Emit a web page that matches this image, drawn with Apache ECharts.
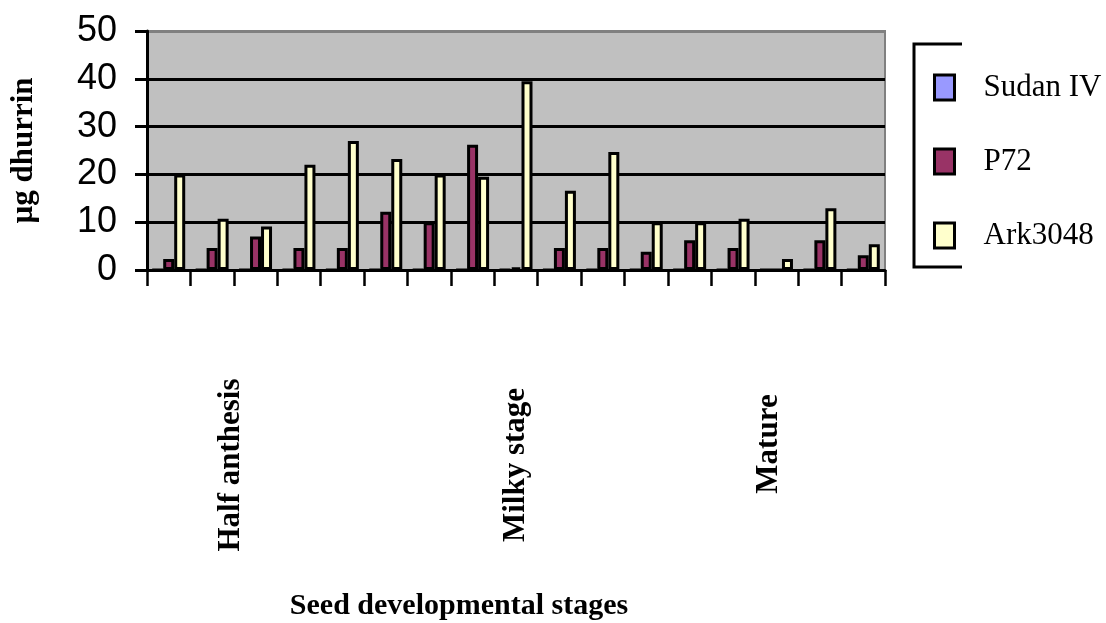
<!DOCTYPE html>
<html>
<head>
<meta charset="utf-8">
<style>
  html, body { margin: 0; padding: 0; background: #ffffff; }
  #chart { width: 1106px; height: 623px; }
</style>
<script src="https://cdn.jsdelivr.net/npm/echarts@6/dist/echarts.min.js"></script>
</head>
<body>
<div id="chart"></div>
<script>
// Samples along the seed developmental series (one bar group each)
const samples = ['1', '2', '3', '4', '5', '6', '7', '8', '9', '10', '11', '12', '13', '14', '15', '16', '17'];

// Dhurrin content (µg) per sample for each line
const sudanIV = [0, 0, 0, 0, 0, 0, 0, 0, 0, 0, 0, 0, 0, 0, 0, 0, 0];
const p72     = [2.3, 4.6, 7, 4.6, 4.6, 12.2, 10, 26.2, 0.5, 4.6, 4.6, 3.8, 6.2, 4.6, 0, 6.2, 3.1];
const ark3048 = [20, 10.7, 9.1, 22, 27, 23.2, 20, 19.5, 39.5, 16.6, 24.7, 10, 10, 10.7, 2.3, 12.9, 5.4];

const seriesNames = ['Sudan IV', 'P72', 'Ark3048'];
const seriesColors = ['#9999FF', '#993366', '#FFFFCC'];

// Stage names written under the axis
const stageLabels = ['Half anthesis', 'Milky stage', 'Mature'];
const yTicks = { min: 0, max: 50, interval: 10 };

const SERIF = '"Liberation Serif", "Times New Roman", serif';
const SANS = '"Liberation Sans", Arial, sans-serif';

const chart = echarts.init(document.getElementById('chart'), null, { renderer: 'canvas' });

const stagePlacement = [
  { x: 231, y: 465 },
  { x: 516, y: 465 },
  { x: 769, y: 444 }
];

const option = {
  animation: false,
  backgroundColor: '#ffffff',
  grid: {
    left: 145, top: 31, width: 740, height: 239,
    show: true,
    backgroundColor: '#C0C0C0',
    borderColor: '#808080',
    borderWidth: 2
  },
  legend: {
    orient: 'vertical',
    left: 928, top: 67,
    itemWidth: 20, itemHeight: 25,
    itemGap: 43,
    icon: 'rect',
    itemStyle: { borderColor: '#000', borderWidth: 3 },
    textStyle: { fontFamily: SERIF, fontSize: 31, color: '#000', lineHeight: 29, padding: [0, 0, 0, 24] },
    data: seriesNames
  },
  xAxis: {
    type: 'category',
    data: samples,
    boundaryGap: true,
    axisLine: { show: true, lineStyle: { color: '#000', width: 3 } },
    axisTick: { show: true, length: 16, lineStyle: { color: '#000', width: 2.5 } },
    axisLabel: { show: false },
    splitLine: { show: false }
  },
  yAxis: {
    type: 'value',
    min: yTicks.min, max: yTicks.max, interval: yTicks.interval,
    name: 'µg dhurrin',
    nameLocation: 'middle',
    nameGap: 108,
    nameRotate: 90,
    nameTextStyle: { fontFamily: SERIF, fontSize: 31, fontWeight: 'bold', color: '#000' },
    axisLine: { show: true, lineStyle: { color: '#000', width: 3 } },
    axisTick: { show: true, length: 12, lineStyle: { color: '#000', width: 3 } },
    axisLabel: { margin: 30, fontFamily: SANS, fontSize: 36, color: '#000' },
    splitLine: {
      show: true,
      lineStyle: { color: ['#000', '#000', '#000', '#000', '#000', '#808080'], width: 3 }
    }
  },
  series: [sudanIV, p72, ark3048].map((vals, i) => ({
    name: seriesNames[i],
    type: 'bar',
    data: vals,
    barWidth: 11,
    barGap: '0%',
    itemStyle: { color: seriesColors[i], borderColor: '#000', borderWidth: 3 }
  })),
  graphic: [
    // legend frame (open on the right)
    {
      type: 'polyline',
      shape: { points: [[962, 44], [914, 44], [914, 267], [962, 267]] },
      style: { stroke: '#000', lineWidth: 3, fill: null }
    },
    ...stageLabels.map((txt, i) => ({
      type: 'text',
      x: stagePlacement[i].x,
      y: stagePlacement[i].y,
      rotation: Math.PI / 2,
      style: {
        text: txt,
        fontFamily: SERIF, fontSize: 31, fontWeight: 'bold', fill: '#000',
        align: 'center', verticalAlign: 'middle'
      }
    })),
    {
      type: 'text',
      x: 459, y: 606,
      style: {
        text: 'Seed developmental stages',
        fontFamily: SERIF, fontSize: 30, fontWeight: 'bold', fill: '#000',
        align: 'center', verticalAlign: 'middle'
      }
    }
  ]
};

chart.setOption(option);
</script>
</body>
</html>
